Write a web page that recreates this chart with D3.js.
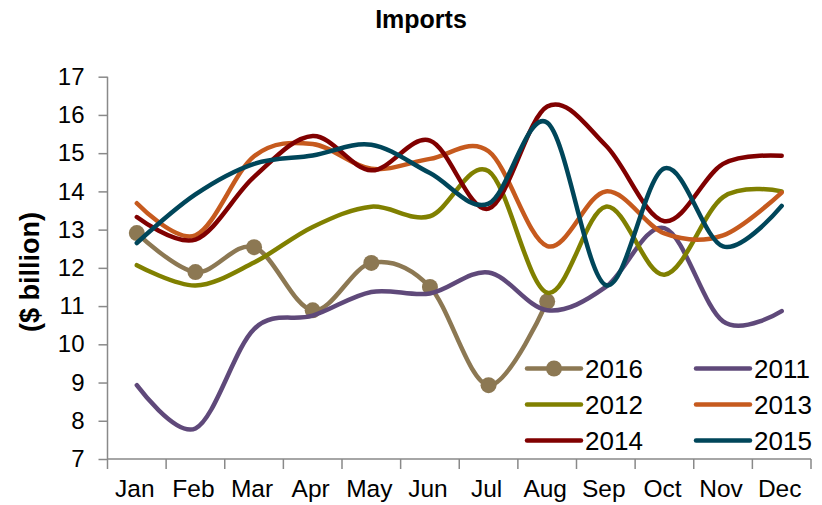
<!DOCTYPE html>
<html><head><meta charset="utf-8">
<script src="https://cdn.jsdelivr.net/npm/d3@7/dist/d3.min.js"></script>
<style>
body{margin:0;background:#fff;}
text{font-family:"Liberation Sans",Arial,sans-serif;fill:#000;}
</style></head>
<body><svg id="c" width="822" height="505"></svg>
<script>
const months = ["Jan","Feb","Mar","Apr","May","Jun","Jul","Aug","Sep","Oct","Nov","Dec"];
const yTicks = [7,8,9,10,11,12,13,14,15,16,17];
const seriesNames = ["2016","2011","2012","2013","2014","2015"];
const seriesColors = ["#8C7853","#5F497A","#808000","#C65A1E","#800000","#00465A"];
const v2016 = [12.91,11.89,12.54,10.89,12.13,11.5,8.93,11.12];
const v2011 = [8.93,7.8,10.4,10.75,11.37,11.33,11.88,10.89,11.5,13.04,10.6,10.87];
const v2012 = [12.07,11.54,12.14,13.07,13.6,13.35,14.53,11.35,13.6,11.82,13.85,14.0];
const v2013 = [13.69,12.85,14.92,15.24,14.59,14.85,15.05,12.57,14.0,12.9,12.85,13.97];
const v2014 = [13.33,12.74,14.38,15.45,14.55,15.33,13.55,16.22,15.2,13.22,14.72,14.93];
const v2015 = [12.65,13.92,14.72,14.94,15.22,14.48,13.68,15.8,11.55,14.6,12.56,13.62];
const allValues = [v2016,v2011,v2012,v2013,v2014,v2015];

const svg = d3.select("#c");
const x = d3.scaleBand().domain(months).range([107.5, 811]);
const y = d3.scaleLinear().domain([7,17]).range([459, 76.7]);
const cx = m => x(m) + x.bandwidth()/2;

// title
svg.append("text").attr("x", 421).attr("y", 28).attr("text-anchor","middle")
  .style("font-size","25px").style("font-weight","bold").text("Imports");

// y axis label
svg.append("text").attr("transform","translate(39,272) rotate(-90)")
  .attr("text-anchor","middle").style("font-size","27px").style("font-weight","bold")
  .text("($ billion)");

// y axis
const yAxis = svg.append("g").attr("transform","translate(107.5,0)")
  .call(d3.axisLeft(y).tickValues(yTicks).tickSize(9).tickPadding(14).tickFormat(d3.format("d")));
yAxis.selectAll("text").style("font-size","24px").style("font-family","Liberation Sans, Arial, sans-serif").attr("fill","#000");

// x axis with ticks between categories
const xAxisG = svg.append("g").attr("transform","translate(0,459)");
xAxisG.append("line").attr("x1",107.5).attr("x2",811).attr("y1",0).attr("y2",0);
const bounds = months.map(m => x(m)).concat([x(months[months.length-1]) + x.bandwidth()]);
xAxisG.selectAll("line.tk").data(bounds).join("line").attr("class","tk")
  .attr("x1",d=>d).attr("x2",d=>d).attr("y1",0).attr("y2",10);
xAxisG.selectAll("text").data(months).join("text")
  .attr("x", d => cx(d) - 2).attr("y", 38).attr("text-anchor","middle")
  .style("font-size","24.5px").text(d=>d);
svg.selectAll("g line, .domain").attr("stroke","#898989").attr("stroke-width",1.5);
yAxis.select(".domain").attr("d","M0,76.7V459");

// lines
const line = d3.line().x((d,i)=>cx(months[i])).y(d=>y(d)).curve(d3.curveCardinal.tension(0));
const plot = svg.append("g");
allValues.forEach((vals, k) => {
  plot.append("path").datum(vals).attr("d", line)
    .attr("fill","none").attr("stroke", seriesColors[k]).attr("stroke-width",4.5)
    .attr("stroke-linecap","round").attr("stroke-linejoin","round");
  if (k === 0) {
    plot.selectAll("circle.m").data(vals).join("circle").attr("class","m")
      .attr("cx",(d,i)=>cx(months[i])).attr("cy",d=>y(d)).attr("r",8)
      .attr("fill",seriesColors[0]);
  }
});

// legend
const legend = svg.append("g");
seriesNames.forEach((name, k) => {
  const col = k % 2, row = Math.floor(k / 2);
  const lx = col === 0 ? 527 : 696;
  const ly = 368.5 + row * 36;
  legend.append("line").attr("x1",lx).attr("x2",lx+54).attr("y1",ly).attr("y2",ly)
    .attr("stroke",seriesColors[k]).attr("stroke-width",4.5).attr("stroke-linecap","round");
  if (k === 0) legend.append("circle").attr("cx",lx+27).attr("cy",ly).attr("r",8).attr("fill",seriesColors[0]);
  legend.append("text").attr("x",lx+58).attr("y",ly+9.5).style("font-size","26px").text(name);
});
</script></body></html>
